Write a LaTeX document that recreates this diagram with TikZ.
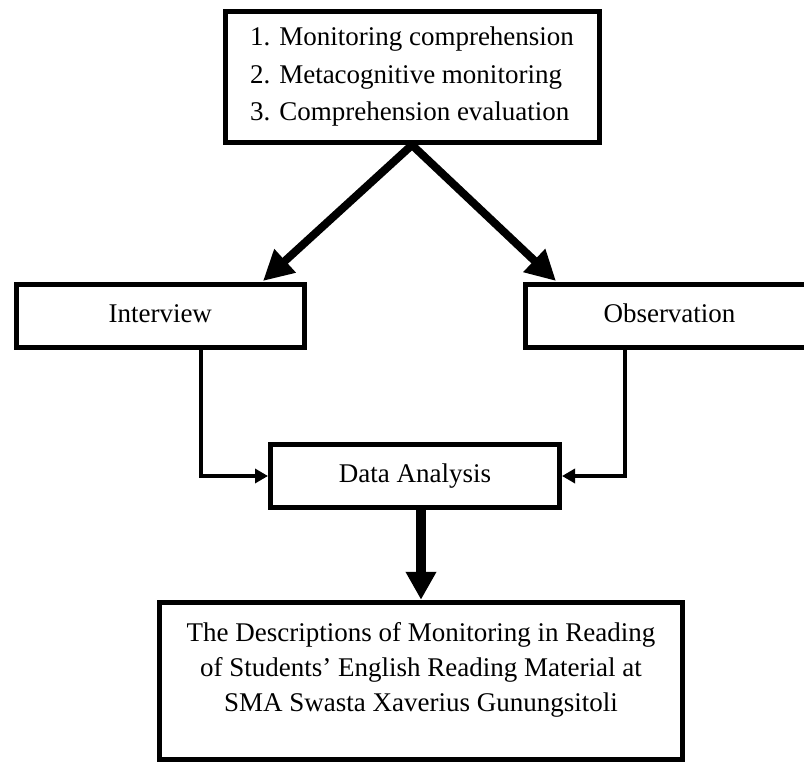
\documentclass[tikz,border=0pt]{standalone}
\usepackage{fontspec}
\setmainfont{Liberation Serif}
\usetikzlibrary{arrows.meta}
\begin{document}
\begin{tikzpicture}[x=1pt,y=-1pt,
 box/.style={draw, line width=5pt, inner sep=0pt, font=\fontsize{27}{37.5}\selectfont},
 oneline/.style={text height=18.4pt, text depth=5.9pt},
 bigarrow/.style={line width=8pt, -{Triangle[length=30pt,width=30pt]}},
 thickarrow/.style={line width=10pt, -{Triangle[length=28pt,width=29pt]}},
 elbow/.style={line width=4pt, -{Triangle[length=13pt,width=14pt]}}]
\useasboundingbox (0,0) rectangle (804,762);
\clip (0,0) rectangle (804,762);
\node[box, minimum width=374pt, minimum height=131pt, align=left] (top) at (412,77)
  {1. Monitoring comprehension\\2. Metacognitive monitoring\\3. Comprehension evaluation};
\node[box, oneline, minimum width=288.5pt, minimum height=63pt] (inter) at (160.25,316) {Interview};
\node[box, oneline, minimum width=288pt, minimum height=63pt] (obs) at (669.5,316) {Observation};
\node[box, oneline, minimum width=289pt, minimum height=63pt] (da) at (415,476) {Data Analysis};
\node[draw, line width=5pt, minimum width=523pt, minimum height=157.5pt, inner sep=0pt] (res) at (421,681) {};
\node[font=\fontsize{27}{35}\selectfont, align=center, inner sep=0pt] (restext) at (421,670)
  {The Descriptions of Monitoring in Reading\\of Students’ English Reading Material at\\SMA Swasta Xaverius Gunungsitoli};
\coordinate (ltip) at (263,281);
\coordinate (rtip) at (556,281);
\draw[bigarrow] (top.south) -- (ltip);
\draw[bigarrow] (top.south) -- (rtip);
\draw[elbow] ([xshift=40.75pt]inter.south) |- (da.west);
\draw[elbow] ([xshift=-44.5pt]obs.south) |- (da.east);
\draw[thickarrow] (da.south -| res.north) -- (res.north);
\end{tikzpicture}
\end{document}
